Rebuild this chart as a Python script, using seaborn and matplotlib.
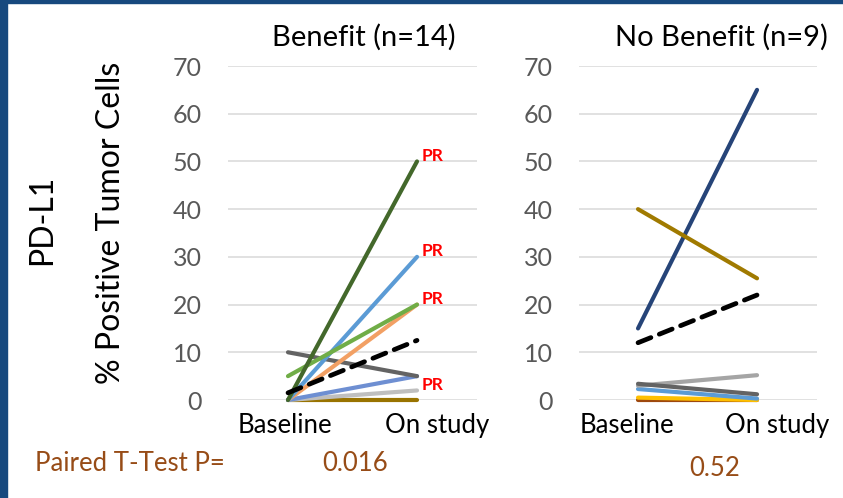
import matplotlib
matplotlib.use("Agg")
import matplotlib.pyplot as plt
import matplotlib.transforms as mtransforms
from matplotlib.patches import Rectangle
import numpy as np
import pandas as pd
import seaborn as sns

# ---- data -------------------------------------------------------------
timepoints = ["Baseline", "On study"]

# Benefit group: baseline / on-study PD-L1 (% positive tumor cells)
benefit_patients = ["B1", "B2", "B3", "B4", "B5", "B6", "B7", "B8"]
benefit_baseline = [0, 0, 0, 10, 0, 0, 5, 0]
benefit_onstudy = [0, 2, 5, 5, 20, 30, 20, 50]
benefit_colors = ["#997300", "#BFBFBF", "#6E8FD2", "#636363",
                  "#F2A064", "#5B9BD5", "#70AD47", "#43682B"]
benefit_pr = [False, True, False, False, True, True, False, True]
benefit_mean = [1.5, 12.5]
benefit_p = "0.016"

# No-benefit group
nobenefit_patients = ["N1", "N2", "N3", "N4", "N5", "N6", "N7"]
nobenefit_baseline = [0, 0.5, 2.3, 3.0, 3.4, 15, 40]
nobenefit_onstudy = [0, 0, 0.3, 5.2, 1.2, 65, 25.5]
nobenefit_colors = ["#9E480E", "#FFC000", "#5B9BD5", "#A5A5A5",
                    "#636363", "#264478", "#A07A00"]
nobenefit_mean = [12.0, 22.0]
nobenefit_p = "0.52"

titles = ["Benefit (n=14)", "No Benefit (n=9)"]
yticks = [0, 10, 20, 30, 40, 50, 60, 70]

# ---- style ------------------------------------------------------------
sns.set_theme(style="white")
plt.rcParams["font.family"] = ["Lato", "DejaVu Sans"]
plt.rcParams["lines.scale_dashes"] = False

W, H = 843, 498
fig = plt.figure(figsize=(W / 100, H / 100), dpi=100)
fig.patch.set_facecolor("white")

# slide frame
frame = "#17497E"
fig.patches.append(Rectangle((0, 0), 7 / W, 1, transform=fig.transFigure,
                             color=frame, zorder=10))
fig.patches.append(Rectangle((0, 1 - 3 / H), 1, 3 / H, transform=fig.transFigure,
                             color=frame, zorder=10))


def px_axes(x0, x1, y_top, y_bot):
    return fig.add_axes([x0 / W, 1 - y_bot / H, (x1 - x0) / W, (y_bot - y_top) / H])


ax_l = px_axes(228, 477, 66, 400)
ax_r = px_axes(579, 817, 66, 400)


def draw_panel(ax, patients, base, onstudy, colors, mean, xlim, label_shift,
               pr=None):
    df = pd.DataFrame({
        "patient": np.repeat(patients, 2),
        "time": np.tile([0, 1], len(patients)),
        "value": np.ravel(np.column_stack([base, onstudy])),
    })
    sns.lineplot(data=df, x="time", y="value", hue="patient",
                 hue_order=patients, palette=dict(zip(patients, colors)),
                 linewidth=3.0, legend=False, ax=ax, clip_on=False,
                 solid_capstyle="round", zorder=3)
    sns.lineplot(x=[0, 1], y=mean, color="black", linewidth=3.4, ax=ax,
                 clip_on=False, zorder=4)
    dash = ax.lines[-1]
    dash.set_dashes((10, 6.5))
    dash.set_dash_capstyle("round")

    if pr is not None:
        for v, flag in zip(onstudy, pr):
            if flag:
                ax.annotate("PR", (1, v), xytext=(3, 4), textcoords="offset points",
                            color="#FF0000", fontsize=12.5, fontweight="bold",
                            ha="left", va="center", annotation_clip=False)

    ax.set_xlim(*xlim)
    ax.set_ylim(0, 70)
    ax.set_yticks(yticks)
    ax.set_xticks([0, 1])
    ax.set_xticklabels(timepoints)
    ax.set_xlabel("")
    ax.set_ylabel("")
    ax.grid(axis="y", color="#D9D9D9", linewidth=1.1)
    ax.grid(axis="x", visible=False)
    ax.set_axisbelow(True)
    for s in ax.spines.values():
        s.set_visible(False)
    ax.tick_params(axis="y", length=0, pad=19, labelsize=18, labelcolor="#595959")
    ax.tick_params(axis="x", length=0, pad=9, labelsize=18.5, labelcolor="black")
    for lab, dx in zip(ax.get_xticklabels(), label_shift):
        lab.set_transform(lab.get_transform() +
                          mtransforms.ScaledTranslation(dx / 100, 0, fig.dpi_scale_trans))


draw_panel(ax_l, benefit_patients, benefit_baseline, benefit_onstudy,
           benefit_colors, benefit_mean, (-0.465, 1.465), (-3, 20), pr=benefit_pr)
draw_panel(ax_r, nobenefit_patients, nobenefit_baseline, nobenefit_onstudy,
           nobenefit_colors, nobenefit_mean, (-0.496, 1.504), (-11, 20))

# titles
fig.text(364 / W, 1 - 37 / H, titles[0], ha="center", va="center", fontsize=21,
         color="black")
fig.text(721 / W, 1 - 37 / H, titles[1], ha="center", va="center", fontsize=21,
         color="black")

# axis titles
fig.text(42 / W, 1 - 220 / H, "PD-L1", rotation=90, ha="center", va="center",
         fontsize=23, color="black")
fig.text(111 / W, 1 - 223 / H, "% Positive Tumor Cells", rotation=90, ha="center",
         va="center", fontsize=23, color="black")

# paired t-test results
pcol = "#974C17"
fig.text(35 / W, 1 - 463 / H, "Paired T-Test P=", ha="left", va="center",
         fontsize=18.5, color=pcol)
fig.text(355 / W, 1 - 463 / H, benefit_p, ha="center", va="center",
         fontsize=18.5, color=pcol)
fig.text(715 / W, 1 - 468 / H, nobenefit_p, ha="center", va="center",
         fontsize=18.5, color=pcol)

fig.savefig("out.png", dpi=100, facecolor="white")
